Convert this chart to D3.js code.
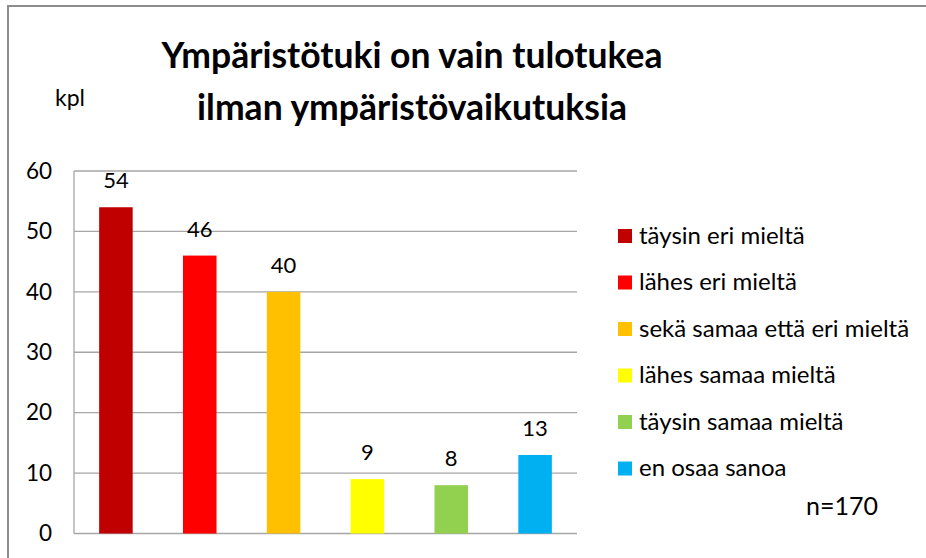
<!DOCTYPE html>
<html>
<head>
<meta charset="utf-8">
<script src="https://cdn.jsdelivr.net/npm/d3@7"></script>
<style>
  body { margin: 0; background: #fff; }
  text { font-family: Lato, "Noto Sans", sans-serif; fill: #000; }
</style>
</head>
<body>
<script>
var categories = ['täysin eri mieltä', 'lähes eri mieltä', 'sekä samaa että eri mieltä',
  'lähes samaa mieltä', 'täysin samaa mieltä', 'en osaa sanoa'];
var values = [54, 46, 40, 9, 8, 13];
var colors = ['#C00000', '#FF0000', '#FFC000', '#FFFF00', '#92D050', '#00B0F0'];
var yTicks = [0, 10, 20, 30, 40, 50, 60];
var titleLines = ['Ympäristötuki on vain tulotukea', 'ilman ympäristövaikutuksia'];

var fullWidth = 926;
var fullHeight = 558;
var margin = {top: 171, left: 74};
var width = 503;
var height = 362.5;

var root = d3.select('body').append('svg')
  .attr('width', fullWidth)
  .attr('height', fullHeight);

// outer frame
root.append('rect')
  .attr('x', 8).attr('y', 6)
  .attr('width', fullWidth).attr('height', fullHeight)
  .style('fill', 'none')
  .style('stroke', '#8c8c8c')
  .style('stroke-width', 2);

root.selectAll('.title')
  .data(titleLines)
  .enter().append('text')
    .attr('class', 'title')
    .attr('x', 412)
    .attr('y', function(d, i) { return 68 + i * 52; })
    .style('text-anchor', 'middle')
    .style('font-weight', 'bold')
    .style('font-size', '35.5px')
    .text(function(d) { return d; });

root.append('text')
  .attr('x', 55).attr('y', 106)
  .style('font-size', '23px')
  .text('kpl');

var svg = root.append('g')
  .attr('transform', 'translate(' + margin.left + ',' + margin.top + ')');

var x = d3.scaleBand()
  .domain(categories)
  .range([0, width])
  .paddingInner(0.6)
  .paddingOuter(0.3);

var y = d3.scaleLinear()
  .domain([0, 60])
  .range([height, 0]);

// gridlines
svg.append('g')
  .selectAll('line')
  .data(yTicks)
  .enter().append('line')
    .attr('x1', 0).attr('x2', width)
    .attr('y1', function(d) { return y(d); })
    .attr('y2', function(d) { return y(d); })
    .style('stroke', '#a6a6a6')
    .style('stroke-width', 1.3);

svg.append('line')
  .attr('x1', 0).attr('x2', 0)
  .attr('y1', 0).attr('y2', height)
  .style('stroke', '#a6a6a6')
  .style('stroke-width', 1.3);

var yAxis = d3.axisLeft(y).tickValues(yTicks).tickSize(0).tickPadding(22);
var yAxisEle = svg.append('g').call(yAxis);
yAxisEle.select('.domain').remove();
yAxisEle.selectAll('text')
  .style('font-size', '22.5px')
  .style('font-family', 'Lato, "Noto Sans", sans-serif');

svg.selectAll('.bar')
  .data(values)
  .enter().append('rect')
    .attr('class', 'bar')
    .attr('x', function(d, i) { return x(categories[i]); })
    .attr('y', function(d) { return y(d); })
    .attr('width', x.bandwidth())
    .attr('height', function(d) { return height - y(d); })
    .style('fill', function(d, i) { return colors[i]; });

svg.selectAll('.value')
  .data(values)
  .enter().append('text')
    .attr('class', 'value')
    .attr('x', function(d, i) { return x(categories[i]) + x.bandwidth() / 2; })
    .attr('y', function(d) { return y(d) - 19; })
    .style('text-anchor', 'middle')
    .style('font-size', '22px')
    .text(function(d) { return d; });

// legend
var legend = root.append('g')
  .attr('transform', 'translate(618,236)');

var item = legend.selectAll('.item')
  .data(categories)
  .enter().append('g')
    .attr('class', 'item')
    .attr('transform', function(d, i) { return 'translate(0,' + (i * 46.5) + ')'; });

item.append('rect')
  .attr('x', 0).attr('y', -7)
  .attr('width', 14).attr('height', 14)
  .style('fill', function(d, i) { return colors[i]; });

item.append('text')
  .attr('x', 21).attr('y', 7.5)
  .style('font-size', '24px')
  .text(function(d) { return d; });

root.append('text')
  .attr('x', 806).attr('y', 515)
  .style('font-size', '25px')
  .text('n=170');
</script>
</body>
</html>
